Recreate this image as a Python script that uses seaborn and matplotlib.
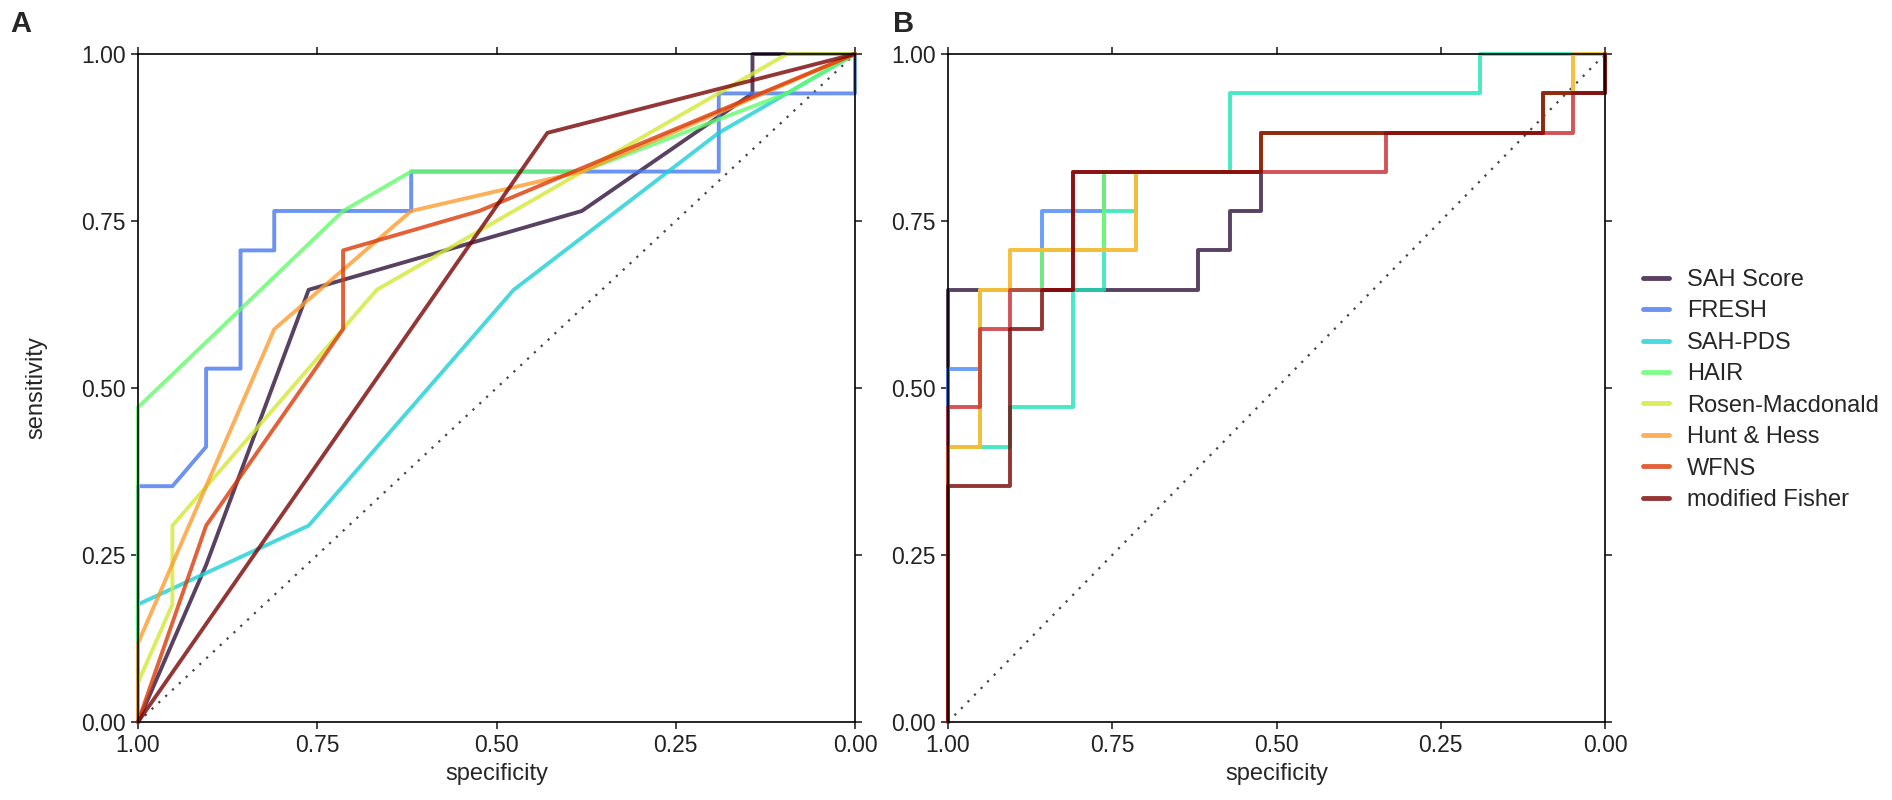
import numpy as np
import pandas as pd
import matplotlib
matplotlib.use("Agg")
import matplotlib.pyplot as plt
import seaborn as sns

# ========================== data ==========================
SCORES = ["SAH Score", "FRESH", "SAH-PDS", "HAIR", "Rosen-Macdonald",
          "Hunt & Hess", "WFNS", "modified Fisher"]

COLORS_A = ["#30123B", "#4777EF", "#1BD0D5", "#62FC6B",
            "#D2E935", "#FE9B2D", "#DB3A07", "#7A0403"]
COLORS_B = ["#30123B", "#4686FB", "#1AE4B6", "#72FE5E",
            "#E1D037", "#FBB938", "#C8282E", "#7A0403"]

# panel A (specificity, sensitivity)
A_SAH_SPEC = [1.000, 0.905, 0.762, 0.381, 0.143, 0.143, 0.000]
A_SAH_SENS = [0.000, 0.235, 0.647, 0.765, 0.941, 1.000, 1.000]
A_FRESH_SPEC = [1.000, 1.000, 0.952, 0.905, 0.905, 0.857, 0.857, 0.810, 0.810,
                0.619, 0.619, 0.190, 0.190, 0.000, 0.000]
A_FRESH_SENS = [0.000, 0.353, 0.353, 0.412, 0.529, 0.529, 0.706, 0.706, 0.765,
                0.765, 0.824, 0.824, 0.941, 0.941, 1.000]
A_PDS_SPEC = [1.000, 1.000, 0.762, 0.476, 0.190, 0.000]
A_PDS_SENS = [0.000, 0.176, 0.294, 0.647, 0.882, 1.000]
A_HAIR_SPEC = [1.000, 1.000, 0.714, 0.619, 0.381, 0.095, 0.000]
A_HAIR_SENS = [0.000, 0.471, 0.765, 0.824, 0.824, 0.941, 1.000]
A_ROSEN_SPEC = [1.000, 1.000, 0.952, 0.952, 0.667, 0.095, 0.000]
A_ROSEN_SENS = [0.000, 0.059, 0.176, 0.294, 0.647, 1.000, 1.000]
A_HUNT_SPEC = [1.000, 1.000, 0.810, 0.619, 0.381, 0.000]
A_HUNT_SENS = [0.000, 0.118, 0.588, 0.765, 0.824, 1.000]
A_WFNS_SPEC = [1.000, 0.905, 0.714, 0.714, 0.524, 0.000]
A_WFNS_SENS = [0.000, 0.294, 0.588, 0.706, 0.765, 1.000]
A_FISHER_SPEC = [1.000, 0.429, 0.000]
A_FISHER_SENS = [0.000, 0.882, 1.000]

# panel B (specificity, sensitivity)
B_SAH_SPEC = [1.000, 1.000, 0.619, 0.619, 0.571, 0.571, 0.524, 0.524,
              0.095, 0.095, 0.000, 0.000]
B_SAH_SENS = [0.000, 0.647, 0.647, 0.706, 0.706, 0.765, 0.765, 0.882,
              0.882, 0.941, 0.941, 1.000]
B_FRESH_SPEC = [1.000, 1.000, 0.952, 0.952, 0.857, 0.857, 0.762, 0.762,
                0.524, 0.524, 0.095, 0.095, 0.000, 0.000]
B_FRESH_SENS = [0.000, 0.529, 0.529, 0.647, 0.647, 0.765, 0.765, 0.824,
                0.824, 0.882, 0.882, 0.941, 0.941, 1.000]
B_PDS_SPEC = [1.000, 1.000, 0.905, 0.905, 0.810, 0.810, 0.762, 0.762,
              0.714, 0.714, 0.571, 0.571, 0.190, 0.190, 0.000]
B_PDS_SENS = [0.000, 0.412, 0.412, 0.471, 0.471, 0.647, 0.647, 0.765,
              0.765, 0.824, 0.824, 0.941, 0.941, 1.000, 1.000]
B_HAIR_SPEC = [1.000, 1.000, 0.952, 0.952, 0.857, 0.857, 0.762, 0.762,
               0.524, 0.524, 0.095, 0.095, 0.000, 0.000]
B_HAIR_SENS = [0.000, 0.412, 0.412, 0.647, 0.647, 0.706, 0.706, 0.824,
               0.824, 0.882, 0.882, 0.941, 0.941, 1.000]
B_ROSEN_SPEC = [1.000, 1.000, 0.952, 0.952, 0.905, 0.905, 0.714, 0.714,
                0.524, 0.524, 0.095, 0.095, 0.048, 0.048, 0.000]
B_ROSEN_SENS = [0.000, 0.412, 0.412, 0.647, 0.647, 0.706, 0.706, 0.824,
                0.824, 0.882, 0.882, 0.941, 0.941, 1.000, 1.000]
B_HUNT_SPEC = [1.000, 1.000, 0.952, 0.952, 0.905, 0.905, 0.714, 0.714,
               0.524, 0.524, 0.095, 0.095, 0.048, 0.048, 0.000]
B_HUNT_SENS = [0.000, 0.412, 0.412, 0.647, 0.647, 0.706, 0.706, 0.824,
               0.824, 0.882, 0.882, 0.941, 0.941, 1.000, 1.000]
B_WFNS_SPEC = [1.000, 1.000, 0.952, 0.952, 0.905, 0.905, 0.810, 0.810,
               0.333, 0.333, 0.048, 0.048, 0.000, 0.000]
B_WFNS_SENS = [0.000, 0.471, 0.471, 0.588, 0.588, 0.647, 0.647, 0.824,
               0.824, 0.882, 0.882, 0.941, 0.941, 1.000]
B_FISHER_SPEC = [1.000, 1.000, 0.905, 0.905, 0.857, 0.857, 0.810, 0.810,
                 0.524, 0.524, 0.095, 0.095, 0.000, 0.000]
B_FISHER_SENS = [0.000, 0.353, 0.353, 0.588, 0.588, 0.647, 0.647, 0.824,
                 0.824, 0.882, 0.882, 0.941, 0.941, 1.000]

CURVES_A = [(A_SAH_SPEC, A_SAH_SENS), (A_FRESH_SPEC, A_FRESH_SENS),
            (A_PDS_SPEC, A_PDS_SENS), (A_HAIR_SPEC, A_HAIR_SENS),
            (A_ROSEN_SPEC, A_ROSEN_SENS), (A_HUNT_SPEC, A_HUNT_SENS),
            (A_WFNS_SPEC, A_WFNS_SENS), (A_FISHER_SPEC, A_FISHER_SENS)]
CURVES_B = [(B_SAH_SPEC, B_SAH_SENS), (B_FRESH_SPEC, B_FRESH_SENS),
            (B_PDS_SPEC, B_PDS_SENS), (B_HAIR_SPEC, B_HAIR_SENS),
            (B_ROSEN_SPEC, B_ROSEN_SENS), (B_HUNT_SPEC, B_HUNT_SENS),
            (B_WFNS_SPEC, B_WFNS_SENS), (B_FISHER_SPEC, B_FISHER_SENS)]

TICKS = [0.0, 0.25, 0.5, 0.75, 1.0]


def roc_frame(curves):
    parts = []
    for name, (spec, sens) in zip(SCORES, curves):
        parts.append(pd.DataFrame({"score": name, "specificity": spec,
                                   "sensitivity": sens}))
    return pd.concat(parts, ignore_index=True)


# ========================== style ==========================
sns.set_style("ticks")
plt.rcParams["font.family"] = ["Liberation Sans", "DejaVu Sans"]
plt.rcParams["axes.linewidth"] = 1.2

fig = plt.figure(figsize=(18.92, 8), dpi=100)
ax_a = fig.add_axes([138 / 1892, 78 / 800, 717 / 1892, 668 / 800])
ax_b = fig.add_axes([948 / 1892, 78 / 800, 657 / 1892, 668 / 800])


def draw_panel(ax, curves, colors, show_legend):
    df = roc_frame(curves)
    ax.plot([1, 0], [0, 1], linestyle=(0, (1, 3.2)), color="#444444", lw=1.6)
    sns.lineplot(data=df, x="specificity", y="sensitivity", hue="score",
                 hue_order=SCORES, palette=colors, sort=False, estimator=None,
                 lw=2.8, alpha=0.8, legend=show_legend, ax=ax)
    for line in ax.lines:
        line.set_clip_on(False)
    ax.set_xlim(1, 0)
    ax.set_ylim(0, 1)
    ax.set_xticks(TICKS)
    ax.set_yticks(TICKS)
    ax.set_xticklabels([f"{t:.2f}" for t in TICKS])
    ax.set_yticklabels([f"{t:.2f}" for t in TICKS])
    ax.tick_params(top=True, right=True, labeltop=False, labelright=False,
                   direction="out", length=5, width=1.2, labelsize=16.5,
                   labelcolor="#222222", pad=4)
    for sp in ax.spines.values():
        sp.set_visible(True)
        sp.set_color("black")
    ax.set_xlabel("specificity", fontsize=17, labelpad=4)


draw_panel(ax_a, CURVES_A, COLORS_A, True)
draw_panel(ax_b, CURVES_B, COLORS_B, False)
ax_a.set_ylabel("sensitivity", fontsize=17, labelpad=24)
ax_b.set_ylabel("")

handles, labels = ax_a.get_legend_handles_labels()
ax_a.get_legend().remove()
for h in handles:
    h.set_linewidth(3.5)
    h.set_alpha(0.8)
fig.legend(handles, labels, loc="center left",
           bbox_to_anchor=(1622 / 1892, 1 - 390 / 800), frameon=False,
           fontsize=17, handlelength=1.1, handletextpad=0.75,
           labelspacing=0.4)

fig.text(10 / 1892, 1 - 10 / 800, "A", fontsize=21, fontweight="bold",
         va="top", ha="left")
fig.text(893 / 1892, 1 - 10 / 800, "B", fontsize=21, fontweight="bold",
         va="top", ha="left")

fig.savefig("out.png", dpi=100)
